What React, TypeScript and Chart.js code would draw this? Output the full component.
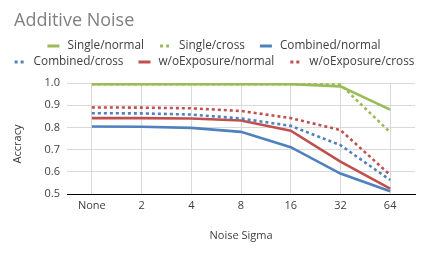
import React, { useEffect, useRef } from "react";
import { Chart, registerables } from "chart.js";

Chart.register(...registerables);

const categories = ["None", "2", "4", "8", "16", "32", "64"];
const singleNormal = [0.995, 0.995, 0.995, 0.995, 0.995, 0.985, 0.88];
const singleCross = [0.995, 0.995, 0.995, 0.995, 0.995, 0.993, 0.778];
const combinedNormal = [0.804, 0.803, 0.798, 0.78, 0.711, 0.592, 0.512];
const combinedCross = [0.864, 0.863, 0.858, 0.84, 0.807, 0.72, 0.563];
const woNormal = [0.842, 0.842, 0.84, 0.831, 0.785, 0.646, 0.524];
const woCross = [0.89, 0.889, 0.886, 0.874, 0.842, 0.788, 0.586];
const yTicks = [0.5, 0.6, 0.7, 0.8, 0.9, 1.0];

const GREEN = "#9bbb59";
const BLUE = "#4f81bd";
const RED = "#c0504d";
const FONT = "'Open Sans', sans-serif";
const TEXT = "#404040";

const seriesDefs = [
  { label: "Single/normal", data: singleNormal, color: GREEN, dotted: false },
  { label: "Single/cross", data: singleCross, color: GREEN, dotted: true },
  { label: "Combined/normal", data: combinedNormal, color: BLUE, dotted: false },
  { label: "Combined/cross", data: combinedCross, color: BLUE, dotted: true },
  { label: "w/oExposure/normal", data: woNormal, color: RED, dotted: false },
  { label: "w/oExposure/cross", data: woCross, color: RED, dotted: true },
];

const legendPlugin = {
  id: "excelLegend",
  afterDraw(chart: any) {
    const ctx = chart.ctx as CanvasRenderingContext2D;
    const rows = [
      [0, 1, 2],
      [3, 4, 5],
    ];
    const rowY = [46, 62];
    const swatchW = 12;
    const textGap = 8;
    const itemGap = 15;
    ctx.save();
    ctx.font = `11.8px ${FONT}`;
    ctx.textBaseline = "middle";
    ctx.textAlign = "left";
    rows.forEach((row, ri) => {
      const widths = row.map(
        (i) => swatchW + textGap + ctx.measureText(seriesDefs[i].label).width
      );
      const total = widths.reduce((a, b) => a + b, 0) + itemGap * (row.length - 1);
      let x = chart.width / 2 - total / 2;
      const y = rowY[ri];
      row.forEach((i, k) => {
        const s = seriesDefs[i];
        ctx.fillStyle = s.color;
        if (s.dotted) {
          ctx.fillRect(x + 1, y - 1.5, 3, 3);
          ctx.fillRect(x + 7, y - 1.5, 3, 3);
        } else {
          ctx.fillRect(x, y - 1.5, swatchW, 3);
        }
        ctx.fillStyle = TEXT;
        ctx.fillText(s.label, x + swatchW + textGap, y);
        x += widths[k] + itemGap;
      });
    });
    // y-axis title, centred as in the reference
    ctx.translate(18, 144);
    ctx.rotate(-Math.PI / 2);
    ctx.textAlign = "center";
    ctx.font = `11px ${FONT}`;
    ctx.fillText("Accracy", 0, 0);
    ctx.restore();
  },
};

export default function App() {
  const ref = useRef<HTMLCanvasElement | null>(null);
  useEffect(() => {
    document.body.style.margin = "0";
    const chart = new Chart(ref.current as HTMLCanvasElement, {
      type: "line",
      data: {
        labels: categories,
        datasets: seriesDefs.map((s) => ({
          label: s.label,
          data: s.data,
          borderColor: s.color,
          backgroundColor: s.color,
          borderWidth: 2.6,
          borderDash: s.dotted ? [3, 3] : [],
          pointRadius: 0,
          tension: 0,
          fill: false,
        })),
      },
      options: {
        responsive: false,
        animation: false,
        layout: { padding: { top: 10, left: 14, right: 13, bottom: 4 } },
        plugins: {
          legend: { display: false },
          tooltip: { enabled: false },
          title: {
            display: true,
            text: "Additive Noise",
            align: "start",
            color: "#808080",
            font: { family: FONT, size: 18, weight: "normal" },
            padding: { top: 0, bottom: 51.4 },
          },
        },
        scales: {
          x: {
            offset: true,
            grid: { offset: false, color: "#d9d9d9", drawTicks: false, lineWidth: 1 },
            border: { display: true, color: "#000000", width: 1 },
            ticks: { color: TEXT, font: { family: FONT, size: 11 }, padding: 5, maxRotation: 0 },
            title: {
              display: true,
              text: "Noise Sigma",
              color: TEXT,
              font: { family: FONT, size: 11 },
              padding: { top: 0, bottom: 9 },
            },
            afterFit(scale: any) {
              scale.height = 57;
            },
          },
          y: {
            min: 0.5,
            max: 1.0,
            afterBuildTicks(scale: any) {
              scale.ticks = yTicks.map((v) => ({ value: v }));
            },
            grid: { color: "#d9d9d9", drawTicks: false, lineWidth: 1 },
            border: { display: false },
            ticks: {
              color: TEXT,
              font: { family: FONT, size: 11 },
              padding: 7,
              callback: (v: any) => Number(v).toFixed(1),
            },
            title: { display: false, text: "Accracy" },
            afterFit(scale: any) {
              scale.width = 53;
            },
          },
        },
      },
      plugins: [legendPlugin],
    });
    return () => chart.destroy();
  }, []);
  return (
    <div style={{ width: 428, height: 255, background: "#ffffff" }}>
      <canvas ref={ref} width={428} height={255} />
    </div>
  );
}
